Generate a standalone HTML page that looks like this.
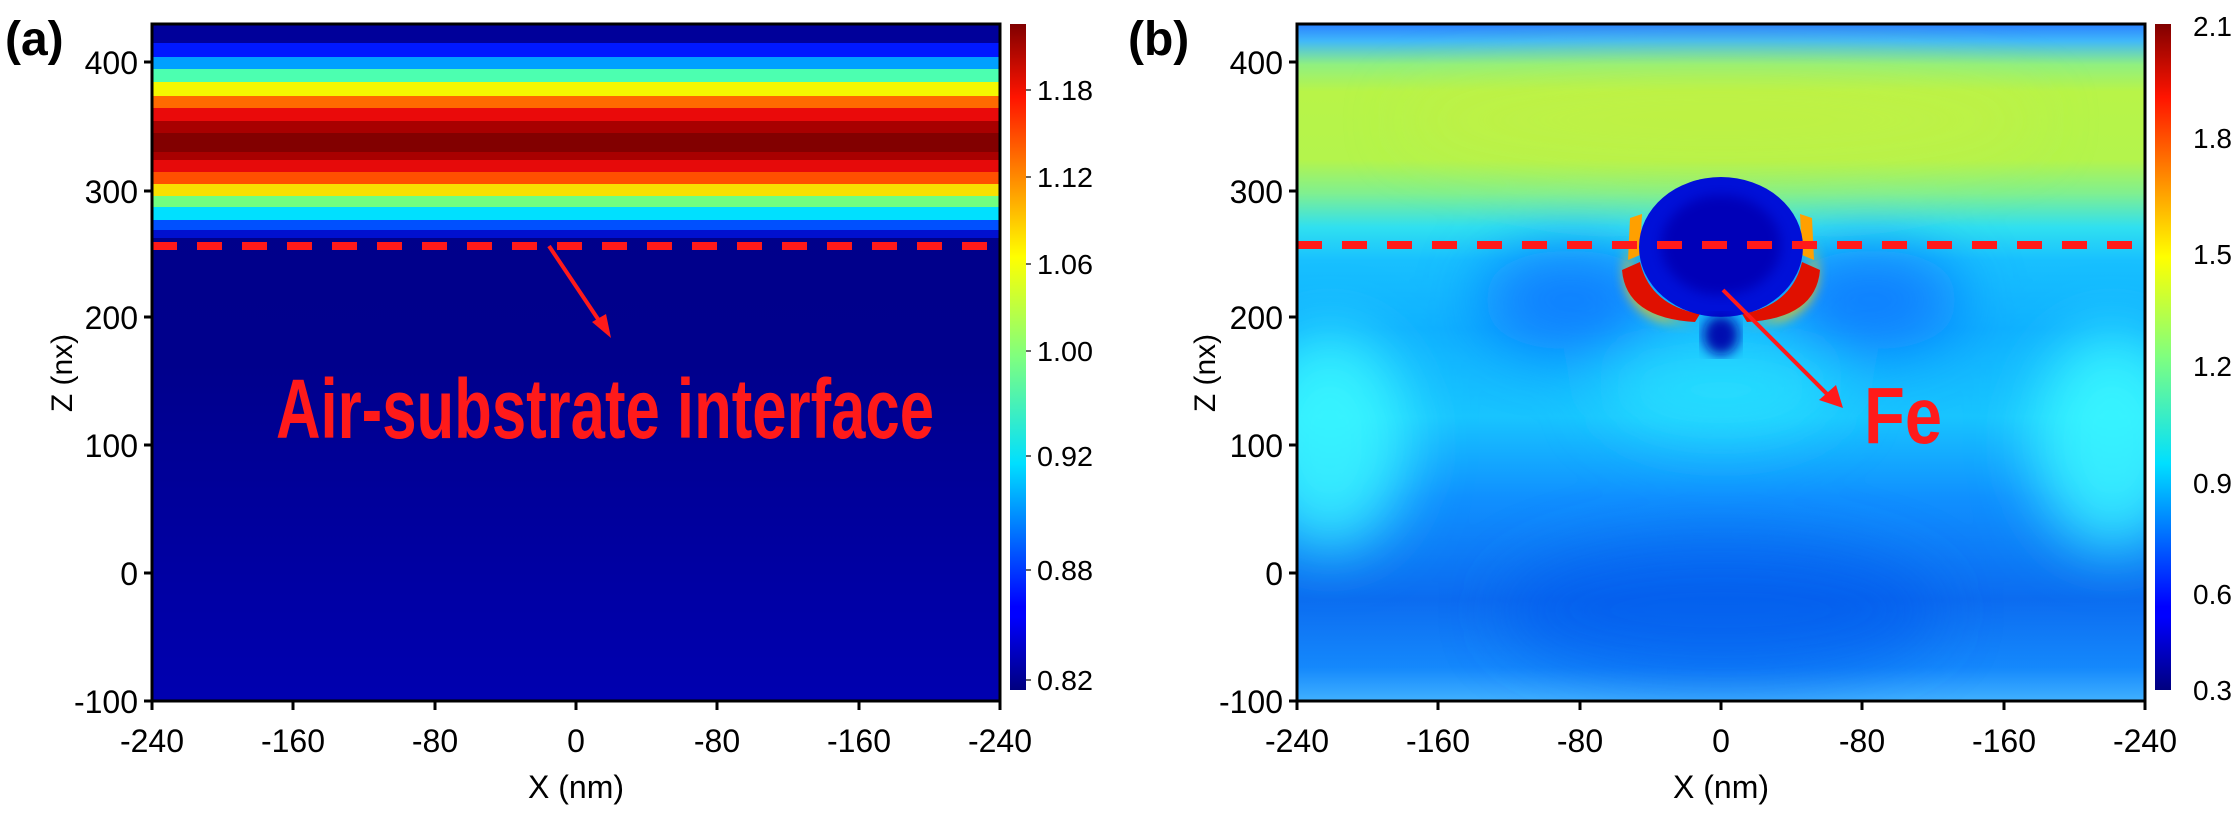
<!DOCTYPE html>
<html><head><meta charset="utf-8"><style>html,body{margin:0;padding:0;background:#fff}svg{display:block}</style></head><body>
<svg width="2235" height="817" viewBox="0 0 2235 817" xmlns="http://www.w3.org/2000/svg" font-family="Liberation Sans, sans-serif">
<defs>
<linearGradient id="jet" x1="0" y1="1" x2="0" y2="0">
<stop offset="0" stop-color="#00007f"/><stop offset="0.11" stop-color="#0000ff"/><stop offset="0.125" stop-color="#0000ff"/><stop offset="0.34" stop-color="#00dfff"/><stop offset="0.5" stop-color="#7fff7f"/><stop offset="0.65" stop-color="#ffff00"/><stop offset="0.89" stop-color="#ff1400"/><stop offset="1" stop-color="#800000"/>
</linearGradient>
<linearGradient id="abg" x1="0" y1="0" x2="0" y2="1">
<stop offset="0" stop-color="#000088"/><stop offset="0.5" stop-color="#00008c"/><stop offset="1" stop-color="#0000b0"/>
</linearGradient>
<linearGradient id="bg" x1="0" y1="0" x2="0" y2="1">
<stop offset="0" stop-color="#2a80ff"/><stop offset="0.025" stop-color="#40b8fa"/><stop offset="0.06" stop-color="#90f080"/><stop offset="0.1" stop-color="#b8f448"/><stop offset="0.2" stop-color="#b4f44c"/><stop offset="0.25" stop-color="#80f090"/><stop offset="0.3" stop-color="#30e0f0"/><stop offset="0.35" stop-color="#18c0ff"/><stop offset="0.45" stop-color="#10b0ff"/><stop offset="0.58" stop-color="#18c4ff"/><stop offset="0.7" stop-color="#1090ff"/><stop offset="0.85" stop-color="#0c6cf0"/><stop offset="0.95" stop-color="#1488fc"/><stop offset="1" stop-color="#40b0ff"/>
</linearGradient>
<filter id="bl" x="-50%" y="-50%" width="200%" height="200%"><feGaussianBlur stdDeviation="30"/></filter>
<filter id="bl2"><feGaussianBlur stdDeviation="6"/></filter>
<clipPath id="cb"><rect x="1297" y="24" width="848" height="677"/></clipPath>
</defs>

<!-- Panel a -->
<rect x="152" y="24" width="848" height="677" fill="url(#abg)"/>
<g>
<rect x="152" y="24" width="848" height="19" fill="#00009a"/>
<rect x="152" y="43" width="848" height="14" fill="#0018ff"/>
<rect x="152" y="57" width="848" height="12" fill="#00a0ff"/>
<rect x="152" y="69" width="848" height="13" fill="#4cffb0"/>
<rect x="152" y="82" width="848" height="14" fill="#f4f800"/>
<rect x="152" y="96" width="848" height="12" fill="#ff6a00"/>
<rect x="152" y="108" width="848" height="13" fill="#ea0a0a"/>
<rect x="152" y="121" width="848" height="12" fill="#a80000"/>
<rect x="152" y="133" width="848" height="19" fill="#820000"/>
<rect x="152" y="152" width="848" height="8" fill="#a80000"/>
<rect x="152" y="160" width="848" height="12" fill="#e60a0a"/>
<rect x="152" y="172" width="848" height="12" fill="#ff5000"/>
<rect x="152" y="184" width="848" height="12" fill="#f8e000"/>
<rect x="152" y="196" width="848" height="11" fill="#70ff80"/>
<rect x="152" y="207" width="848" height="13" fill="#00e0ff"/>
<rect x="152" y="220" width="848" height="10" fill="#0050ff"/>
<rect x="152" y="230" width="848" height="8" fill="#0010d0"/>
</g>
<line x1="152" y1="246" x2="1000" y2="246" stroke="#ff1a1a" stroke-width="8" stroke-dasharray="25,20"/>
<line x1="549" y1="246" x2="604" y2="328" stroke="#ff1a1a" stroke-width="4"/>
<polygon points="611,338 592,322 606,314" fill="#ff1a1a"/>
<text x="276" y="438" font-size="84" font-weight="bold" fill="#ff1a1a" textLength="658" lengthAdjust="spacingAndGlyphs">Air-substrate interface</text>
<rect x="152" y="24" width="848" height="677" fill="none" stroke="#000" stroke-width="3"/>
<!-- colorbar a -->
<rect x="1010" y="24" width="16" height="666" fill="url(#jet)"/>
<g stroke="#333" stroke-width="1.5">
<line x1="1026" y1="90" x2="1031" y2="90"/><line x1="1026" y1="177" x2="1031" y2="177"/><line x1="1026" y1="264" x2="1031" y2="264"/><line x1="1026" y1="351" x2="1031" y2="351"/><line x1="1026" y1="456" x2="1031" y2="456"/><line x1="1026" y1="570" x2="1031" y2="570"/><line x1="1026" y1="680" x2="1031" y2="680"/>
</g>
<g font-size="28" fill="#000">
<text x="1037" y="100" textLength="56" lengthAdjust="spacingAndGlyphs">1.18</text>
<text x="1037" y="187" textLength="56" lengthAdjust="spacingAndGlyphs">1.12</text>
<text x="1037" y="274" textLength="56" lengthAdjust="spacingAndGlyphs">1.06</text>
<text x="1037" y="361" textLength="56" lengthAdjust="spacingAndGlyphs">1.00</text>
<text x="1037" y="466" textLength="56" lengthAdjust="spacingAndGlyphs">0.92</text>
<text x="1037" y="580" textLength="56" lengthAdjust="spacingAndGlyphs">0.88</text>
<text x="1037" y="690" textLength="56" lengthAdjust="spacingAndGlyphs">0.82</text>
</g>
<!-- y axis a -->
<g stroke="#000" stroke-width="3">
<line x1="144" y1="62" x2="152" y2="62"/><line x1="144" y1="191" x2="152" y2="191"/><line x1="144" y1="317" x2="152" y2="317"/><line x1="144" y1="445" x2="152" y2="445"/><line x1="144" y1="573" x2="152" y2="573"/><line x1="144" y1="701" x2="152" y2="701"/>
<line x1="152" y1="701" x2="152" y2="710"/><line x1="293" y1="701" x2="293" y2="710"/><line x1="435" y1="701" x2="435" y2="710"/><line x1="576" y1="701" x2="576" y2="710"/><line x1="717" y1="701" x2="717" y2="710"/><line x1="859" y1="701" x2="859" y2="710"/><line x1="1000" y1="701" x2="1000" y2="710"/>
</g>
<g font-size="32" fill="#000" text-anchor="end">
<text x="138" y="74">400</text><text x="138" y="203">300</text><text x="138" y="329">200</text><text x="138" y="457">100</text><text x="138" y="585">0</text><text x="138" y="713">-100</text>
</g>
<g font-size="32" fill="#000" text-anchor="middle">
<text x="152" y="752">-240</text><text x="293" y="752">-160</text><text x="435" y="752">-80</text><text x="576" y="752">0</text><text x="717" y="752">-80</text><text x="859" y="752">-160</text><text x="1000" y="752">-240</text>
<text x="576" y="798">X (nm)</text>
</g>
<text transform="translate(72,373) rotate(-90)" font-size="30" text-anchor="middle">Z (nx)</text>
<text x="5" y="55" font-size="48" font-weight="bold">(a)</text>

<!-- Panel b -->
<g clip-path="url(#cb)">
<rect x="1297" y="24" width="848" height="677" fill="url(#bg)"/>
<g filter="url(#bl)">
<ellipse cx="1330" cy="440" rx="80" ry="110" fill="#40ffff" opacity="0.8"/>
<ellipse cx="2112" cy="440" rx="80" ry="110" fill="#40ffff" opacity="0.8"/>
<ellipse cx="1570" cy="300" rx="90" ry="50" fill="#0c78ff" opacity="0.9"/>
<ellipse cx="1872" cy="300" rx="90" ry="50" fill="#0c78ff" opacity="0.9"/>
<ellipse cx="1721" cy="610" rx="220" ry="70" fill="#0858ec" opacity="0.6"/>
<ellipse cx="1721" cy="390" rx="120" ry="50" fill="#30e8ff" opacity="0.7"/>
<ellipse cx="1721" cy="120" rx="320" ry="50" fill="#c8f040" opacity="0.5"/>
</g>
<g filter="url(#bl2)">
<path d="M1632,240 Q1620,310 1700,325 L1660,320 Q1610,300 1632,240Z" fill="#ffd000"/>
<path d="M1810,240 Q1822,310 1742,325 L1782,320 Q1832,300 1810,240Z" fill="#ffd000"/>
</g>
<path d="M1622,270 Q1626,318 1695,322 L1700,314 Q1650,305 1640,262Z" fill="#e01000"/>
<path d="M1820,270 Q1816,318 1747,322 L1742,314 Q1792,305 1802,262Z" fill="#e01000"/>
<path d="M1630,218 L1642,214 L1640,255 L1628,260Z" fill="#ffa000"/>
<path d="M1812,218 L1800,214 L1802,255 L1814,260Z" fill="#ffa000"/>
<ellipse cx="1721" cy="247" rx="82" ry="70" fill="#0010d8"/>
<ellipse cx="1721" cy="245" rx="60" ry="50" fill="#0000b8" filter="url(#bl2)"/>
<ellipse cx="1721" cy="335" rx="18" ry="20" fill="#0008b0" filter="url(#bl2)"/>
</g>
<line x1="1297" y1="245" x2="2145" y2="245" stroke="#ff1a1a" stroke-width="8" stroke-dasharray="25,20"/>
<line x1="1723" y1="290" x2="1830" y2="397" stroke="#ff1a1a" stroke-width="4"/>
<polygon points="1843,408 1819,400 1836,385" fill="#ff1a1a"/>
<text x="1864" y="443" font-size="80" font-weight="bold" fill="#ff1a1a" textLength="78" lengthAdjust="spacingAndGlyphs">Fe</text>
<rect x="1297" y="24" width="848" height="677" fill="none" stroke="#000" stroke-width="3"/>
<!-- colorbar b -->
<rect x="2155" y="24" width="16" height="666" fill="url(#jet)"/>
<g font-size="28" fill="#000">
<text x="2193" y="36">2.1</text><text x="2193" y="148">1.8</text><text x="2193" y="264">1.5</text><text x="2193" y="376">1.2</text><text x="2193" y="493">0.9</text><text x="2193" y="604">0.6</text><text x="2193" y="700">0.3</text>
</g>
<g stroke="#000" stroke-width="3">
<line x1="1289" y1="62" x2="1297" y2="62"/><line x1="1289" y1="191" x2="1297" y2="191"/><line x1="1289" y1="317" x2="1297" y2="317"/><line x1="1289" y1="445" x2="1297" y2="445"/><line x1="1289" y1="573" x2="1297" y2="573"/><line x1="1289" y1="701" x2="1297" y2="701"/>
<line x1="1297" y1="701" x2="1297" y2="710"/><line x1="1438" y1="701" x2="1438" y2="710"/><line x1="1580" y1="701" x2="1580" y2="710"/><line x1="1721" y1="701" x2="1721" y2="710"/><line x1="1862" y1="701" x2="1862" y2="710"/><line x1="2004" y1="701" x2="2004" y2="710"/><line x1="2145" y1="701" x2="2145" y2="710"/>
</g>
<g font-size="32" fill="#000" text-anchor="end">
<text x="1283" y="74">400</text><text x="1283" y="203">300</text><text x="1283" y="329">200</text><text x="1283" y="457">100</text><text x="1283" y="585">0</text><text x="1283" y="713">-100</text>
</g>
<g font-size="32" fill="#000" text-anchor="middle">
<text x="1297" y="752">-240</text><text x="1438" y="752">-160</text><text x="1580" y="752">-80</text><text x="1721" y="752">0</text><text x="1862" y="752">-80</text><text x="2004" y="752">-160</text><text x="2145" y="752">-240</text>
<text x="1721" y="798">X (nm)</text>
</g>
<text transform="translate(1215,373) rotate(-90)" font-size="30" text-anchor="middle">Z (nx)</text>
<text x="1128" y="55" font-size="48" font-weight="bold">(b)</text>
</svg>
</body></html>
